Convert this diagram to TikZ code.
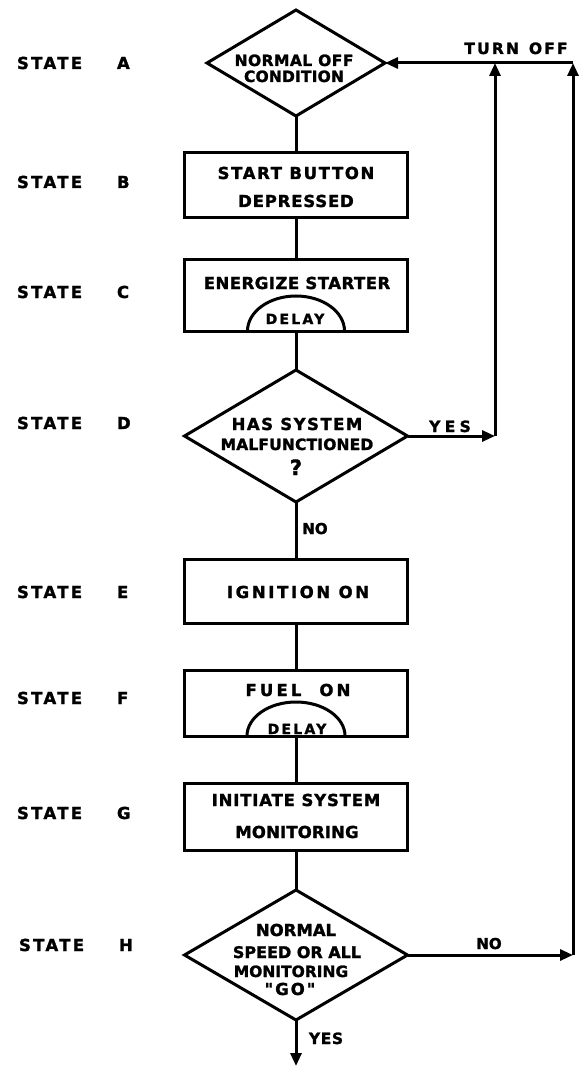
\documentclass[tikz,border=0pt]{standalone}
\usepackage{fontspec}
\setmainfont{DejaVu Sans}[Ligatures=TeXOff,BoldFeatures={FakeBold=1.6}]
\usetikzlibrary{arrows.meta,shapes.geometric}
\newcommand\lsp[1]{\addfontfeatures{LetterSpace=#1}}
\newcommand\fsz[1]{\fontsize{#1}{#1}\selectfont}
\begin{document}
\begin{tikzpicture}[x=1pt,y=-1pt,
  ln/.style={line width=3pt},
  arr/.style={ln,-{Triangle[length=13pt,width=11pt]}},
  boxn/.style={draw,ln,rectangle,inner sep=0pt,outer sep=0pt,minimum width=223pt},
  dia/.style={draw,ln,diamond,inner sep=0pt,outer sep=0pt},
  txt/.style={inner sep=0pt,outer sep=0pt,text height=12pt,text depth=0pt,font=\fontsize{16.5}{17}\selectfont\bfseries},
  stl/.style={txt,anchor=west}
]
\useasboundingbox (0,0) rectangle (579,1067);

% shapes
\node[dia,minimum width=178pt,minimum height=106pt] (A) at (296,63) {};
\node[boxn,minimum height=65pt] (B) at (296,185.5) {};
\node[boxn,minimum height=72pt] (C) at (296,295) {};
\node[dia,minimum width=223pt,minimum height=132pt] (D) at (296,436) {};
\node[boxn,minimum height=64pt] (E) at (296,591) {};
\node[boxn,minimum height=66pt] (F) at (296,703) {};
\node[boxn,minimum height=67pt] (G) at (296,816.5) {};
\node[dia,minimum width=223pt,minimum height=130pt] (H) at (296,955) {};

% delay arcs
\draw[ln] ([xshift=-48.5pt]C.south) arc[start angle=180,end angle=0,x radius=48.5pt,y radius=35pt];
\draw[ln] ([xshift=-49pt]F.south) arc[start angle=180,end angle=0,x radius=49pt,y radius=34pt];

% state labels
\node[stl] (sA) at (17,63)  {\lsp{14}\makebox[100pt][l]{STATE}A};
\node[stl] (sB) at (17,182) {\lsp{14}\makebox[100pt][l]{STATE}B};
\node[stl] (sC) at (17,292) {\lsp{14}\makebox[100pt][l]{STATE}C};
\node[stl] (sD) at (17,423) {\lsp{14}\makebox[100pt][l]{STATE}D};
\node[stl] (sE) at (17,592) {\lsp{14}\makebox[100pt][l]{STATE}E};
\node[stl] (sF) at (17,698) {\lsp{14}\makebox[100pt][l]{STATE}F};
\node[stl] (sG) at (17,813) {\lsp{14}\makebox[100pt][l]{STATE}G};
\node[stl] (sH) at (19,945) {\lsp{14}\makebox[100pt][l]{STATE}H};

% texts
\node[txt] (tA1) at (294,60) {\fsz{15.5}\lsp{3}NORMAL OFF};
\node[txt] (tA2) at (294,76) {\fsz{15.5}\lsp{1}CONDITION};
\node[txt] (tB1) at (296,173) {\lsp{10}START BUTTON};
\node[txt] (tB2) at (296,201) {\lsp{5}DEPRESSED};
\node[txt] (tC1) at (297,283) {\lsp{3}ENERGIZE STARTER};
\node[txt] (tC2) at (295,318) {\fsz{14}\lsp{16}DELAY};
\node[txt] (tD1) at (297,424) {\lsp{9}HAS SYSTEM};
\node[txt] (tD2) at (297,444) {\fsz{15.5}\lsp{1}MALFUNCTIONED};
\node[txt] (tD3) at (296,469) {\fsz{21}?};
\node[txt] (tE) at (298,592) {\lsp{16}IGNITION ON};
\node[txt] (tF1) at (298,690) {\lsp{19}FUEL\hspace{18pt}ON};
\node[txt] (tF2) at (297,728) {\fsz{14}\lsp{16}DELAY};
\node[txt] (tG1) at (296,800) {\lsp{5}INITIATE SYSTEM};
\node[txt] (tG2) at (297,832) {\lsp{1}MONITORING};
\node[txt] (tH1) at (296,930) {NORMAL};
\node[txt] (tH2) at (297,952) {\fsz{16}SPEED OR ALL};
\node[txt] (tH3) at (291,971) {\fsz{15.5}MONITORING};
\node[txt] (tH4) at (290,989) {\lsp{12}"GO"};

% branch labels
\node[txt] (lto) at (516,48) {\fsz{15.5}\lsp{14}TURN\hspace{10pt}OFF};
\node[txt] (lyes1) at (450,426) {\fsz{15.5}\lsp{28}YES};
\node[txt] (lno1) at (315,528) {\fsz{15}NO};
\node[txt] (lno2) at (489,943) {\fsz{15}NO};
\node[txt] (lyes2) at (326,1038) {\fsz{15.5}\lsp{4}YES};

% connectors
\draw[ln] (A.south) -- (B.north);
\draw[ln] (B.south) -- (C.north);
\draw[ln] (C.south) -- (D.north);
\draw[ln] (D.south) -- (E.north);
\draw[ln] (E.south) -- (F.north);
\draw[ln] (F.south) -- (G.north);
\draw[ln] (G.south) -- (H.north);
\coordinate (bot) at (296,1066);
\draw[arr] (H.south) -- (bot);

\coordinate (yj) at (495,436);
\coordinate (yt) at (495,63);
\draw[arr] (D.east) -- (yj);
\draw[arr] (yj) -- (yt);

\coordinate (rb) at (573,955);
\coordinate (rt) at (573,63);
\draw[arr] (H.east) -- (rb);
\draw[arr] (rb) -- (rt);
\draw[arr] (rt) -- (A.east);
\end{tikzpicture}
\end{document}
